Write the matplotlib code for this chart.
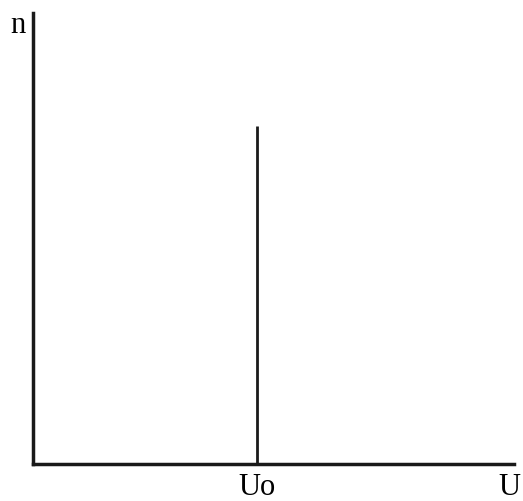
import matplotlib.pyplot as plt

# position of the single value and its height
u_values = [0.466]
n_values = [0.75]
x_labels = ['Uo', 'U']
x_label_pos = [0.466, 0.99]

plt.rcParams['font.family'] = ['Liberation Serif', 'DejaVu Serif']

fig = plt.figure(figsize=(5.23, 5.02), dpi=100)
ax = fig.add_axes([0.063, 0.074, 0.92, 0.898])

ax.vlines(u_values, 0, n_values, color='#1a1a1a', lw=2)

ax.set_xlim(0, 1)
ax.set_ylim(0, 1)
ax.spines['top'].set_visible(False)
ax.spines['right'].set_visible(False)
ax.spines['left'].set_linewidth(2.5)
ax.spines['bottom'].set_linewidth(2.5)
ax.spines['left'].set_color('#1a1a1a')
ax.spines['bottom'].set_color('#1a1a1a')

ax.set_xticks(x_label_pos)
ax.set_xticklabels(x_labels, fontsize=22)
ax.tick_params(axis='x', length=0, pad=6)
ax.set_yticks([])

ax.text(-0.016, 0.975, 'n', transform=ax.transAxes, fontsize=22,
        ha='right', va='center')

fig.savefig('out.png', dpi=100)
